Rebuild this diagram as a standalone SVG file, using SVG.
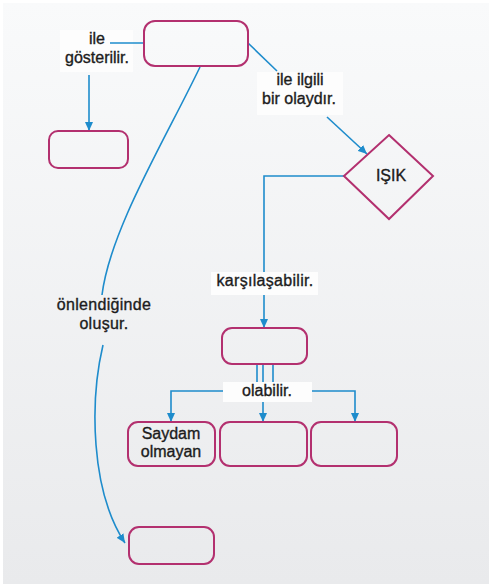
<svg xmlns="http://www.w3.org/2000/svg" width="492" height="584" viewBox="0 0 492 584">
<style>
.box{fill:none;stroke:#b3306f;stroke-width:2}
.con{fill:none;stroke:#1e8ccc;stroke-width:1.6}
.lbl{fill:#fdfdfd}
text{font-family:"Liberation Sans",Arial,sans-serif;font-size:16px;fill:#1c1c1c;stroke:#1c1c1c;stroke-width:0.35;text-anchor:middle}
</style>
<defs>
<linearGradient id="bg" x1="0" y1="0" x2="0" y2="1">
<stop offset="0" stop-color="#f9fafb"/>
<stop offset="1" stop-color="#e9eaec"/>
</linearGradient>
<marker id="arr" markerUnits="userSpaceOnUse" markerWidth="10" markerHeight="8" refX="9" refY="4" orient="auto">
<path d="M0,0 L9,4 L0,8 z" fill="#1e8ccc"/>
</marker>
</defs>
<rect width="492" height="584" fill="#ffffff"/>
<rect x="3" y="3" width="486" height="581" fill="url(#bg)"/>

<g id="labels-bg">
<rect class="lbl" x="60" y="30" width="73" height="42"/>
<rect class="lbl" x="257" y="72" width="86" height="43"/>
<rect class="lbl" x="211" y="272" width="107" height="23"/>
<rect class="lbl" x="223" y="382" width="89" height="20"/>
</g>

<g id="connectors">
<path class="con" d="M144,43 H110"/>
<path class="con" d="M89,75 V131" marker-end="url(#arr)"/>
<path class="con" d="M248,43 L277,71"/>
<path class="con" d="M327,117 L367,154" marker-end="url(#arr)"/>
<path class="con" d="M200,67 C165,140 110,230 102,295"/>
<path class="con" d="M103,345 C90,400 90,490 125,543" marker-end="url(#arr)"/>
<path class="con" d="M344,176 H264 V272"/>
<path class="con" d="M264,295 V328" marker-end="url(#arr)"/>
<path class="con" d="M257,364 V382 M263,364 V382 M273,364 V382"/>
<path class="con" d="M223,391 H171 V422" marker-end="url(#arr)"/>
<path class="con" d="M263,402 V422" marker-end="url(#arr)"/>
<path class="con" d="M312,391 H355 V422" marker-end="url(#arr)"/>
</g>

<g id="label-texts">
<text x="97" y="44">ile</text>
<text x="97" y="63">gösterilir.</text>
<text x="300" y="85">ile ilgili</text>
<text x="299" y="104">bir olaydır.</text>
<text x="265" y="286" letter-spacing="0.3">karşılaşabilir.</text>
<text x="104" y="310" letter-spacing="0.3">önlendiğinde</text>
<text x="104" y="329" letter-spacing="0.3">oluşur.</text>
<text x="267" y="396">olabilir.</text>
</g>

<g id="node-top"><rect class="box" x="144" y="21" width="104" height="45" rx="11"/></g>
<g id="node-left"><rect class="box" x="49" y="131" width="79" height="37" rx="9"/></g>
<g id="node-isik"><polygon class="box" points="389,135 433,176 389,219 344,176"/><text x="391" y="181">IŞIK</text></g>
<g id="node-middle"><rect class="box" x="222" y="328" width="85" height="36" rx="10"/></g>
<g id="node-saydam"><rect class="box" x="128" y="422" width="87" height="44" rx="10"/><text x="171" y="439">Saydam</text><text x="171" y="457">olmayan</text></g>
<g id="node-b2"><rect class="box" x="220" y="422" width="87" height="44" rx="10"/></g>
<g id="node-b3"><rect class="box" x="311" y="422" width="86" height="44" rx="10"/></g>
<g id="node-bottom"><rect class="box" x="129" y="527" width="85" height="37" rx="10"/></g>
</svg>
